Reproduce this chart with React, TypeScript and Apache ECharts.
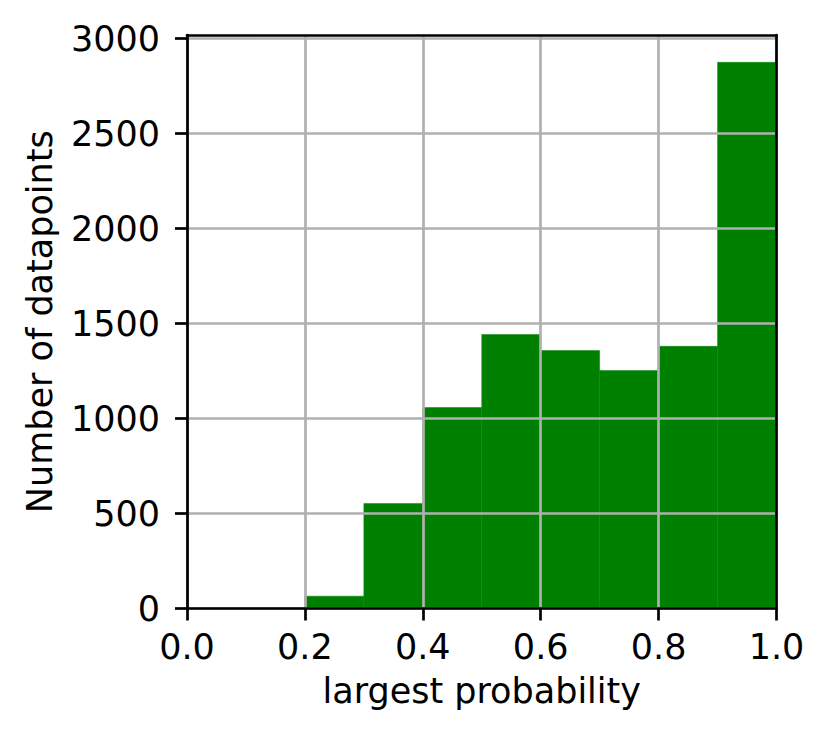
import React, { useEffect, useRef } from "react";
import * as echarts from "echarts";

const binStarts = [0.2, 0.3, 0.4, 0.5, 0.6, 0.7, 0.8, 0.9];
const binEnds = [0.3, 0.4, 0.5, 0.6, 0.7, 0.8, 0.9, 1.0];
const counts = [65, 553, 1058, 1442, 1358, 1253, 1380, 2875];
const xTicks = [0, 0.2, 0.4, 0.6, 0.8, 1.0];
const yTicks = [0, 500, 1000, 1500, 2000, 2500, 3000];

const FONT = "DejaVu Sans";
const FS = 35;
const LW = 2.7;

export default function App() {
  const ref = useRef<HTMLDivElement>(null);
  useEffect(() => {
    if (!ref.current) return;
    const chart = echarts.init(ref.current, null, { renderer: "svg" });
    const yMax = Math.max(...counts) * 1.05;
    const data = binStarts.map((s, i) => [s, binEnds[i], counts[i]]);
    chart.setOption({
      animation: false,
      backgroundColor: "#ffffff",
      grid: { left: 187, top: 35, right: 53.5, bottom: 132.5, containLabel: false },
      xAxis: [
        {
          type: "value",
          min: 0,
          max: 1,
          interval: 0.2,
          z: 5,
          name: "largest probability",
          nameLocation: "middle",
          nameGap: 65,
          nameTextStyle: { fontFamily: FONT, fontSize: FS, color: "#000" },
          axisLine: { show: true, onZero: false, lineStyle: { color: "#000", width: LW } },
          axisTick: { show: true, length: 12, lineStyle: { color: "#000", width: LW } },
          axisLabel: {
            show: true,
            margin: 21,
            fontFamily: FONT,
            fontSize: FS,
            color: "#000",
            customValues: xTicks,
            formatter: (v: number) => v.toFixed(1),
          },
          splitLine: { show: true, lineStyle: { color: "#b0b0b0", width: LW } },
        },
        {
          type: "value",
          position: "top",
          min: 0,
          max: 1,
          z: 6,
          axisLine: { show: true, onZero: false, lineStyle: { color: "#000", width: LW } },
          axisTick: { show: false },
          axisLabel: { show: false },
          splitLine: { show: false },
        },
      ],
      yAxis: [
        {
          type: "value",
          min: 0,
          max: yMax,
          interval: 500,
          z: 5,
          name: "Number of datapoints",
          nameLocation: "middle",
          nameGap: 130,
          nameRotate: 90,
          nameTextStyle: { fontFamily: FONT, fontSize: FS, color: "#000" },
          axisLine: { show: true, onZero: false, lineStyle: { color: "#000", width: LW } },
          axisTick: {
            show: true,
            length: 12,
            customValues: yTicks,
            lineStyle: { color: "#000", width: LW },
          },
          axisLabel: {
            show: true,
            margin: 27,
            fontFamily: FONT,
            fontSize: FS,
            color: "#000",
            customValues: yTicks,
            formatter: (v: number) => String(Math.round(v)),
          },
          splitLine: { show: true, lineStyle: { color: "#b0b0b0", width: LW } },
        },
        {
          type: "value",
          position: "right",
          min: 0,
          max: yMax,
          z: 6,
          axisLine: { show: true, onZero: false, lineStyle: { color: "#000", width: LW } },
          axisTick: { show: false },
          axisLabel: { show: false },
          splitLine: { show: false },
        },
      ],
      series: [
        {
          type: "custom",
          xAxisIndex: 0,
          yAxisIndex: 0,
          z: 2,
          data,
          renderItem: (params: any, api: any) => {
            const x0 = api.value(0);
            const x1 = api.value(1);
            const y = api.value(2);
            const p0 = api.coord([x0, y]);
            const p1 = api.coord([x1, 0]);
            return {
              type: "rect",
              shape: { x: p0[0], y: p0[1], width: p1[0] - p0[0], height: p1[1] - p0[1] },
              style: { fill: "#008000", stroke: "#0a830a", lineWidth: 0.5 },
            };
          },
        },
      ],
    });
    return () => chart.dispose();
  }, []);
  return <div ref={ref} style={{ width: 830, height: 741, position: "absolute", left: 0, top: 0 }} />;
}
